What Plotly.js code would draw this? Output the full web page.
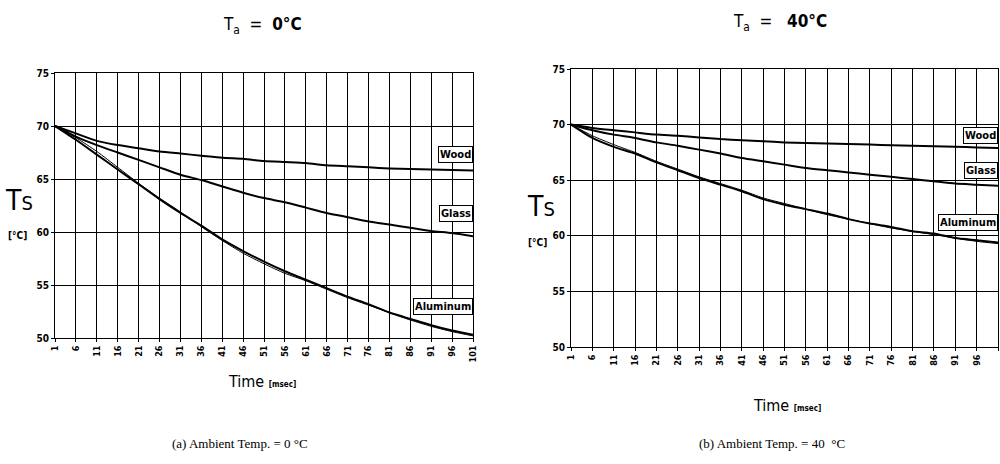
<!DOCTYPE html>
<html>
<head>
<meta charset="utf-8">
<script src="https://cdn.plot.ly/plotly-3.0.1.min.js"></script>
<style>html,body{margin:0;padding:0;background:#fff;}#chart{width:1000px;height:464px;}</style>
</head>
<body>
<div id="chart"></div>
<script>
// ---- data ----
const timeTicks = [1,6,11,16,21,26,31,36,41,46,51,56,61,66,71,76,81,86,91,96,101];
const timeTickText = ["1","6","11","16","21","26","31","36","41","46","51","56","61","66","71","76","81","86","91","96","101"];
const tempTicks = [50,55,60,65,70,75];

// (a) Ambient 0 °C
const woodA     = [70.0,69.3,68.6,68.2,67.9,67.6,67.4,67.2,67.0,66.9,66.7,66.6,66.5,66.3,66.2,66.1,66.0,65.95,65.9,65.85,65.8];
const glassA    = [70.0,69.0,68.2,67.5,66.8,66.1,65.4,64.9,64.3,63.7,63.2,62.8,62.3,61.8,61.4,61.0,60.7,60.4,60.1,59.9,59.6];
const aluminumA = [70.0,68.7,67.3,65.9,64.5,63.1,61.8,60.6,59.3,58.2,57.2,56.3,55.5,54.7,53.9,53.2,52.4,51.8,51.2,50.7,50.3];
const aluminumA2= [70.0,68.9,67.6,66.1,64.6,63.2,61.9,60.5,59.2,58.0,57.0,56.1,55.4,54.6,53.8,53.1,52.4,51.7,51.1,50.6,50.2];

// (b) Ambient 40 °C
const woodB     = [70.0,69.7,69.5,69.3,69.1,69.0,68.85,68.7,68.6,68.5,68.4,68.35,68.3,68.25,68.2,68.15,68.1,68.05,68.0,67.95,67.9];
const glassB    = [70.0,69.5,69.1,68.8,68.4,68.1,67.75,67.4,67.0,66.7,66.4,66.1,65.9,65.7,65.5,65.3,65.1,64.9,64.7,64.6,64.5];
const aluminumB = [70.0,68.8,68.0,67.4,66.6,65.9,65.2,64.6,64.0,63.3,62.8,62.4,62.0,61.5,61.1,60.8,60.4,60.2,59.8,59.6,59.4];
const aluminumB2= [70.0,69.0,68.2,67.5,66.7,66.0,65.3,64.7,64.1,63.4,62.9,62.4,61.9,61.5,61.1,60.7,60.4,60.1,59.8,59.5,59.3];

const seriesNames = ["Wood","Glass","Aluminum"];

// ---- drawing ----
const narrow = "DejaVu Sans Condensed, Liberation Sans Narrow, Arial Narrow, sans-serif";
function line(x, y, xa, ya, w, name) {
  return {x: x, y: y, xaxis: xa, yaxis: ya, type: 'scatter', mode: 'lines', name: name,
          line: {color: '#000', width: w, shape: 'spline', smoothing: 0.6}, showlegend: false, hoverinfo: 'skip'};
}
const traces = [
  line(timeTicks, aluminumA2, 'x', 'y', 1, 'Aluminum'),
  line(timeTicks, woodA, 'x', 'y', 2, seriesNames[0]),
  line(timeTicks, glassA, 'x', 'y', 2, seriesNames[1]),
  line(timeTicks, aluminumA, 'x', 'y', 2, seriesNames[2]),
  line(timeTicks, aluminumB2, 'x2', 'y2', 1, 'Aluminum'),
  line(timeTicks, woodB, 'x2', 'y2', 2, seriesNames[0]),
  line(timeTicks, glassB, 'x2', 'y2', 2, seriesNames[1]),
  line(timeTicks, aluminumB, 'x2', 'y2', 2, seriesNames[2])
];

function xax(dom, anchor) {
  return {domain: dom, anchor: anchor, range: [1,101], tickmode: 'array', tickvals: timeTicks, ticktext: timeTickText,
          tickangle: -90, showgrid: true, gridcolor: '#000', gridwidth: 1, showline: true, linecolor: '#000', linewidth: 1,
          mirror: true, ticks: 'outside', ticklen: 3, tickcolor: '#000', zeroline: false,
          tickfont: {family: narrow, size: 9, color: '#000', weight: 'bold'}};
}
function yax(dom, anchor) {
  return {domain: dom, anchor: anchor, range: [50,75], tickmode: 'array', tickvals: tempTicks,
          showgrid: true, gridcolor: '#000', gridwidth: 1, showline: true, linecolor: '#000', linewidth: 1,
          mirror: true, ticks: 'outside', ticklen: 3, tickcolor: '#000', zeroline: false,
          tickfont: {family: narrow, size: 10, color: '#000', weight: 'bold'}};
}

const labFont = {family: narrow, size: 11, color: '#000', weight: 'bold'};
function lab(text, xref, yref, y) {
  return {text: text, xref: xref, yref: yref, x: 101, y: y, xanchor: 'right', yanchor: 'middle', showarrow: false,
          font: labFont, bgcolor: '#fff', bordercolor: '#000', borderwidth: 1, borderpad: 1};
}
function paperText(text, x, y, size, opts) {
  return Object.assign({text: text, xref: 'paper', yref: 'paper', x: x / 1000, y: 1 - y / 464, showarrow: false,
          xanchor: 'center', yanchor: 'middle', font: {family: narrow, size: size, color: '#000'}}, opts || {});
}

const serif = {family: "Liberation Serif, Times New Roman, serif", size: 13, color: '#000'};
const annotations = [
  lab(seriesNames[0], 'x', 'y', 67.3),
  lab(seriesNames[1], 'x', 'y', 61.7),
  lab(seriesNames[2], 'x', 'y', 53.0),
  lab(seriesNames[0], 'x2', 'y2', 69.0),
  lab(seriesNames[1], 'x2', 'y2', 65.9),
  lab(seriesNames[2], 'x2', 'y2', 61.2),
  // titles
  paperText("T<sub>a</sub>  =  <b>0°C</b>", 262, 26, 17),
  paperText("T<sub>a</sub>  =   <b>40°C</b>", 780, 22, 17),
  // y titles
  paperText("T<span style='font-size:20px'>S</span>", 19, 200, 28),
  paperText("<b>[°C]</b>", 17, 236, 10),
  paperText("T<span style='font-size:20px'>S</span>", 541, 207, 28),
  paperText("<b>[°C]</b>", 537, 243, 10),
  // x titles
  paperText("Time <span style='font-size:8px'><b>[msec]</b></span>", 262, 381, 16),
  paperText("Time <span style='font-size:8px'><b>[msec]</b></span>", 787, 405, 16),
  // captions
  paperText("(a) Ambient Temp. = 0 °C", 240, 443, 13, {font: serif}),
  paperText("(b) Ambient Temp. = 40  °C", 772, 443, 13, {font: serif})
];

const layout = {
  width: 1000, height: 464, margin: {l: 0, r: 0, t: 0, b: 0},
  paper_bgcolor: '#fff', plot_bgcolor: '#fff', showlegend: false,
  xaxis: xax([0.055, 0.473], 'y'),
  yaxis: yax([1 - 338/464, 1 - 73/464], 'x'),
  xaxis2: xax([0.571, 0.998], 'y2'),
  yaxis2: yax([1 - 347/464, 1 - 69/464], 'x2'),
  annotations: annotations
};

Plotly.newPlot('chart', traces, layout, {displayModeBar: false, staticPlot: true});
</script>
</body>
</html>
